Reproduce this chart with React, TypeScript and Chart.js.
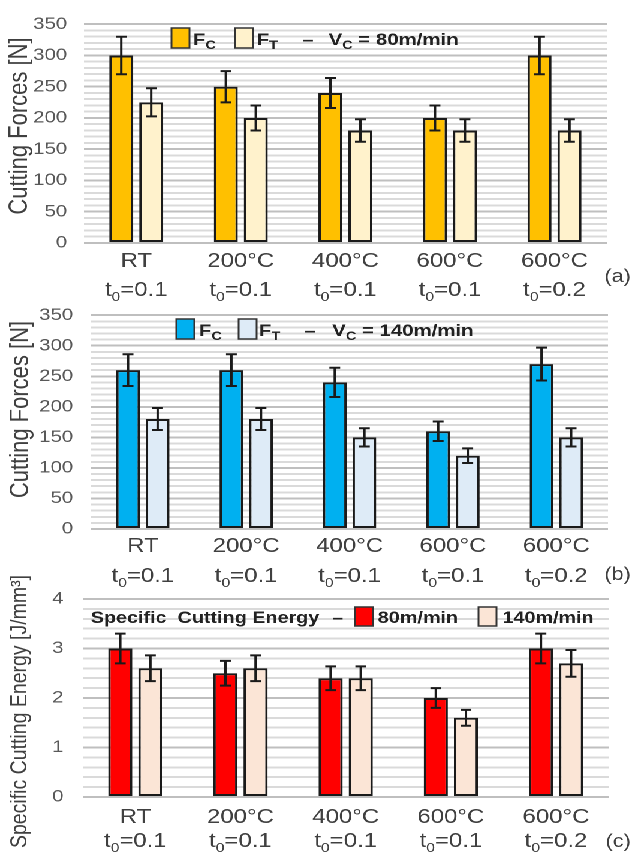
import React, { useEffect, useRef } from 'react';
import { Chart, registerables } from 'chart.js';

Chart.register(...registerables);

// ---------- data ----------
const categories = ['RT', '200°C', '400°C', '600°C', '600°C'];
const chipThickness = ['0.1', '0.1', '0.1', '0.1', '0.2'];

const fc80 = [300, 250, 240, 200, 300];
const fc80Err = [30, 25, 24, 20, 30];
const ft80 = [225, 200, 180, 180, 180];
const ft80Err = [22.5, 20, 18, 18, 18];

const fc140 = [260, 260, 240, 160, 270];
const fc140Err = [26, 26, 24, 16, 27];
const ft140 = [180, 180, 150, 120, 150];
const ft140Err = [18, 18, 15, 12, 15];

const energy80 = [3.0, 2.5, 2.4, 2.0, 3.0];
const energy80Err = [0.3, 0.25, 0.24, 0.2, 0.3];
const energy140 = [2.6, 2.6, 2.4, 1.6, 2.7];
const energy140Err = [0.26, 0.26, 0.24, 0.16, 0.27];

const forceTickValues = [0, 50, 100, 150, 200, 250, 300, 350];
const energyTickValues = [0, 1, 2, 3, 4];

// ---------- layout ----------
const W = 527;
const SX = 632 / W;
const FONT = '"Liberation Sans", Arial, sans-serif';
const TXT = '#404040';
const TICK = '#595959';
const INK = '#1a1a1a';

type Part = { t: string; sub?: boolean };

function richWidth(ctx: CanvasRenderingContext2D, parts: Part[], size: number, bold: boolean, subSize: number) {
  let w = 0;
  for (const p of parts) {
    ctx.font = `${bold ? 'bold ' : ''}${p.sub ? subSize : size}px ${FONT}`;
    w += ctx.measureText(p.t).width;
  }
  return w;
}

function drawRich(ctx: CanvasRenderingContext2D, x: number, y: number, parts: Part[], size: number, bold: boolean, subSize: number, subDy: number) {
  for (const p of parts) {
    ctx.font = `${bold ? 'bold ' : ''}${p.sub ? subSize : size}px ${FONT}`;
    ctx.fillText(p.t, x, y + (p.sub ? subDy : 0));
    x += ctx.measureText(p.t).width;
  }
  return x;
}

function legendBox(ctx: CanvasRenderingContext2D, x: number, y: number, w: number, h: number, color: string) {
  ctx.fillStyle = color;
  ctx.fillRect(x, y, w, h);
  ctx.strokeStyle = '#333';
  ctx.lineWidth = 1.5;
  ctx.strokeRect(x, y, w, h);
}

type Series = { label: string; data: number[]; err: number[]; color: string };

type PanelDef = {
  key: string;
  top: number;
  height: number;
  padTop: number;
  padBottom: number;
  padRight: number;
  axisWidth: number;
  tickPad: number;
  max: number;
  step: number;
  tickValues: number[];
  series: Series[];
  title: string;
  titleSize: number;
  titleX: number;
  titleY: number;
  labelY1: number;
  labelY2: number;
  tag: string;
  tagY: number;
  legend: (ctx: CanvasRenderingContext2D) => void;
};

function forceLegend(ctx: CanvasRenderingContext2D, x0: number, y0: number, c1: string, c2: string, speed: string, xs: number[]) {
  const base = y0 + 17;
  legendBox(ctx, xs[0], y0, 15, 20, c1);
  ctx.fillStyle = '#222';
  ctx.textBaseline = 'alphabetic';
  ctx.textAlign = 'left';
  drawRich(ctx, xs[1], base, [{ t: 'F' }, { t: 'C', sub: true }], 17, true, 12, 4);
  legendBox(ctx, xs[2], y0, 15, 20, c2);
  ctx.fillStyle = '#222';
  drawRich(ctx, xs[3], base, [{ t: 'F' }, { t: 'T', sub: true }], 17, true, 12, 4);
  drawRich(ctx, xs[4], base, [{ t: '–' }], 17, true, 12, 4);
  drawRich(ctx, xs[5], base, [{ t: 'V' }, { t: 'C', sub: true }, { t: ' = ' + speed }], 17, true, 12, 4);
}

const panels: PanelDef[] = [
  {
    key: 'a', top: 0, height: 310, padTop: 20, padBottom: 67, padRight: 21, axisWidth: 70, tickPad: 14,
    max: 350, step: 10, tickValues: forceTickValues,
    series: [
      { label: 'FC', data: fc80, err: fc80Err, color: '#FFC000' },
      { label: 'FT', data: ft80, err: ft80Err, color: '#FFF2CC' },
    ],
    title: 'Cutting Forces [N]', titleSize: 22, titleX: 16.3, titleY: 126,
    labelY1: 267, labelY2: 296, tag: '(a)', tagY: 277,
    legend: (ctx) => forceLegend(ctx, 0, 28, '#FFC000', '#FFF2CC', '80m/min', [143, 161, 196, 214, 252, 274]),
  },
  {
    key: 'b', top: 290, height: 300, padTop: 22, padBottom: 61, padRight: 20, axisWidth: 76, tickPad: 15,
    max: 350, step: 10, tickValues: forceTickValues,
    series: [
      { label: 'FC', data: fc140, err: fc140Err, color: '#00B0F0' },
      { label: 'FT', data: ft140, err: ft140Err, color: '#DEEBF7' },
    ],
    title: 'Cutting Forces [N]', titleSize: 22, titleX: 17.5, titleY: 119.5,
    labelY1: 262, labelY2: 292, tag: '(b)', tagY: 285,
    legend: (ctx) => forceLegend(ctx, 0, 29, '#00B0F0', '#DEEBF7', '140m/min', [147, 166, 199, 216, 254, 277]),
  },
  {
    key: 'c', top: 560, height: 295, padTop: 39, padBottom: 58, padRight: 19.5, axisWidth: 69, tickPad: 16,
    max: 4, step: 0.2, tickValues: energyTickValues,
    series: [
      { label: '80m/min', data: energy80, err: energy80Err, color: '#FF0000' },
      { label: '140m/min', data: energy140, err: energy140Err, color: '#FBE5D6' },
    ],
    title: 'Specific Cutting Energy [J/mm³]', titleSize: 19.5, titleX: 16.7, titleY: 151.5,
    labelY1: 263, labelY2: 287, tag: '(c)', tagY: 282,
    legend: (ctx) => {
      const base = 63;
      ctx.fillStyle = '#222';
      ctx.textBaseline = 'alphabetic';
      ctx.textAlign = 'left';
      drawRich(ctx, 75.6, base, [{ t: 'Specific  Cutting Energy' }], 16.5, true, 12, 4);
      drawRich(ctx, 277, base, [{ t: '–' }], 16.5, true, 12, 4);
      legendBox(ctx, 296, 47, 15, 19, '#FF0000');
      ctx.fillStyle = '#222';
      drawRich(ctx, 315, base, [{ t: '80m/min' }], 16.5, true, 12, 4);
      legendBox(ctx, 399, 47, 15, 19, '#FBE5D6');
      ctx.fillStyle = '#222';
      drawRich(ctx, 419, base, [{ t: '140m/min' }], 16.5, true, 12, 4);
    },
  },
];

function isMajor(v: number, vals: number[]) {
  return vals.some((t) => Math.abs(t - v) < 1e-6);
}

function Panel({ p }: { p: PanelDef }) {
  const ref = useRef<HTMLCanvasElement>(null);
  useEffect(() => {
    const canvas = ref.current!;
    const overlay = {
      id: 'overlay' + p.key,
      afterDatasetsDraw(chart: any) {
        const ctx = chart.ctx as CanvasRenderingContext2D;
        const ys = chart.scales.y;
        ctx.save();
        ctx.strokeStyle = INK;
        ctx.lineWidth = 2;
        chart.data.datasets.forEach((ds: any, di: number) => {
          const meta = chart.getDatasetMeta(di);
          const errs = p.series[di].err;
          meta.data.forEach((bar: any, i: number) => {
            const v = ds.data[i];
            const e = errs[i];
            const yt = ys.getPixelForValue(v + e);
            const yb = ys.getPixelForValue(v - e);
            const x = bar.x;
            ctx.beginPath();
            ctx.moveTo(x, yt);
            ctx.lineTo(x, yb);
            ctx.moveTo(x - 4.5, yt);
            ctx.lineTo(x + 4.5, yt);
            ctx.moveTo(x - 4.5, yb);
            ctx.lineTo(x + 4.5, yb);
            ctx.stroke();
          });
        });
        ctx.restore();
      },
      afterDraw(chart: any) {
        const ctx = chart.ctx as CanvasRenderingContext2D;
        const xs = chart.scales.x;
        ctx.save();
        // legend
        p.legend(ctx);
        // category labels
        ctx.fillStyle = TXT;
        ctx.textBaseline = 'alphabetic';
        ctx.textAlign = 'left';
        categories.forEach((c, i) => {
          const x = xs.getPixelForValue(i);
          ctx.font = `20px ${FONT}`;
          const w1 = ctx.measureText(c).width;
          ctx.fillText(c, x - w1 / 2, p.labelY1);
          const parts: Part[] = [{ t: 't' }, { t: '0', sub: true }, { t: '=' + chipThickness[i] }];
          const w2 = richWidth(ctx, parts, 20, false, 13);
          drawRich(ctx, x - w2 / 2, p.labelY2, parts, 20, false, 13, 5);
        });
        // tag
        ctx.font = `18px ${FONT}`;
        ctx.textAlign = 'right';
        ctx.textBaseline = 'middle';
        ctx.fillText(p.tag, 526, p.tagY);
        // axis title
        ctx.translate(p.titleX, p.titleY);
        ctx.rotate(-Math.PI / 2);
        ctx.textAlign = 'center';
        ctx.textBaseline = 'middle';
        ctx.font = `${p.titleSize}px ${FONT}`;
        ctx.fillText(p.title, 0, 0);
        ctx.restore();
      },
    };

    const chart = new Chart(canvas, {
      type: 'bar',
      data: {
        labels: categories,
        datasets: p.series.map((s) => ({
          label: s.label,
          data: s.data,
          backgroundColor: s.color,
          borderColor: INK,
          borderWidth: 2,
          borderSkipped: false,
          categoryPercentage: 0.573,
          barPercentage: 0.8,
        })),
      },
      options: {
        responsive: false,
        animation: false,
        devicePixelRatio: 2,
        events: [],
        layout: { padding: { top: p.padTop, bottom: p.padBottom, left: 0, right: p.padRight } },
        plugins: { legend: { display: false }, tooltip: { enabled: false } },
        scales: {
          x: { type: 'category', display: false, offset: true },
          y: {
            min: 0,
            max: p.max,
            position: 'left',
            border: { display: false },
            grid: {
              drawTicks: false,
              lineWidth: 2,
              color: (c: any) => (isMajor(c.tick ? c.tick.value : 0, p.tickValues) ? '#bfbfbf' : '#dadada'),
            },
            ticks: {
              stepSize: p.step,
              autoSkip: false,
              padding: p.tickPad,
              color: TICK,
              font: { family: FONT, size: 17 },
              callback: (v: any) => {
                const n = Number(v);
                const hit = p.tickValues.find((t) => Math.abs(t - n) < 1e-6);
                return hit === undefined ? '' : String(hit);
              },
            },
            afterFit: (scale: any) => {
              scale.width = p.axisWidth;
            },
          },
        },
      },
      plugins: [overlay],
    } as any);
    return () => chart.destroy();
  }, []);
  return (
    <canvas
      ref={ref}
      width={W}
      height={p.height}
      style={{ position: 'absolute', left: 0, top: p.top }}
    />
  );
}

export default function App() {
  return (
    <div
      style={{
        position: 'absolute',
        left: 0,
        top: 0,
        width: W,
        height: 855,
        transform: `scaleX(${SX})`,
        transformOrigin: '0 0',
        background: '#fff',
      }}
    >
      {panels.map((p) => (
        <Panel key={p.key} p={p} />
      ))}
    </div>
  );
}
